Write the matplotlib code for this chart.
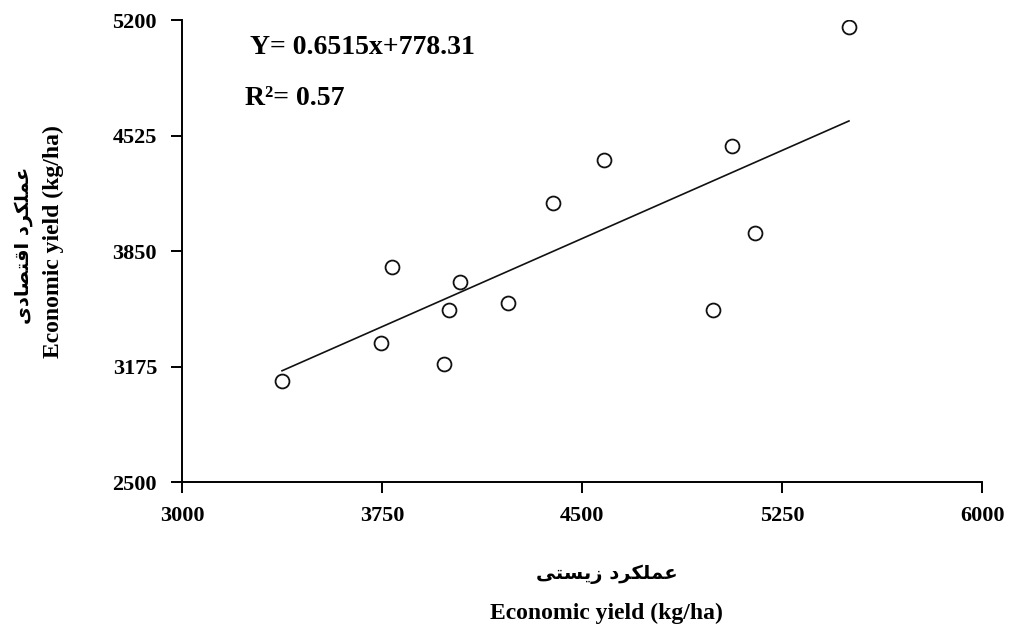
import matplotlib
matplotlib.use("Agg")
import matplotlib.pyplot as plt

# ---------------------------------------------------------
# Data
# ---------------------------------------------------------
bio_yield = [3375, 3746, 3787, 3982, 4001, 4042, 4222, 4391, 4582, 4991, 5062, 5149, 5501]
eco_yield = [3090, 3312, 3757, 3190, 3505, 3669, 3546, 4131, 4382, 3505, 4464, 3955, 5159]

# trend line as drawn in the figure (end points)
fit_x = [3375, 5501]
fit_y = [3150, 4610]

x_ticks = [3000, 3750, 4500, 5250, 6000]
y_ticks = [2500, 3175, 3850, 4525, 5200]

equation = "Y= 0.6515x+778.31"
r_squared = "R²= 0.57"

# ---------------------------------------------------------
# Minimal Persian shaping (matplotlib has no bidi / joining)
# forms: isolated, final, initial, medial
# ---------------------------------------------------------
FORMS = {
    "ع": ("\uFEC9", "\uFECA", "\uFECB", "\uFECC"),
    "م": ("\uFEE1", "\uFEE2", "\uFEE3", "\uFEE4"),
    "ل": ("\uFEDD", "\uFEDE", "\uFEDF", "\uFEE0"),
    "ک": ("\uFB8E", "\uFB8F", "\uFB90", "\uFB91"),
    "ی": ("\uFBFC", "\uFBFD", "\uFBFE", "\uFBFF"),
    "س": ("\uFEB1", "\uFEB2", "\uFEB3", "\uFEB4"),
    "ت": ("\uFE95", "\uFE96", "\uFE97", "\uFE98"),
    "ق": ("\uFED5", "\uFED6", "\uFED7", "\uFED8"),
    "ص": ("\uFEB9", "\uFEBA", "\uFEBB", "\uFEBC"),
    "ر": ("\uFEAD", "\uFEAE", None, None),
    "د": ("\uFEA9", "\uFEAA", None, None),
    "ز": ("\uFEAF", "\uFEB0", None, None),
    "ا": ("\uFE8D", "\uFE8E", None, None),
}


def shape(text):
    out = []
    for i, ch in enumerate(text):
        if ch not in FORMS:
            out.append(ch)
            continue
        prev = text[i - 1] if i > 0 else " "
        nxt = text[i + 1] if i + 1 < len(text) else " "
        joins_prev = prev in FORMS and FORMS[prev][2] is not None
        joins_next = nxt in FORMS and FORMS[ch][2] is not None
        iso, fin, ini, med = FORMS[ch]
        if joins_prev and joins_next:
            out.append(med)
        elif joins_prev:
            out.append(fin)
        elif joins_next:
            out.append(ini)
        else:
            out.append(iso)
    return "".join(reversed(out))


x_label_fa = shape("عملکرد زیستی")
y_label_fa = shape("عملکرد اقتصادی")
x_label_en = "Economic yield (kg/ha)"
y_label_en = "Economic yield (kg/ha)"

# ---------------------------------------------------------
# Plot
# ---------------------------------------------------------
serif = "Liberation Serif"
fig = plt.figure(figsize=(10.14, 6.25), dpi=100)
ax = fig.add_axes([0.1795, 0.2288, 0.7890, 0.7392])

ax.plot(fit_x, fit_y, color="#111111", linewidth=1.2, zorder=2)
ax.plot(bio_yield, eco_yield, linestyle="none", marker="o", markersize=10,
        markerfacecolor="white", markeredgecolor="#111111", markeredgewidth=1.3, zorder=3)

ax.set_xlim(3000, 6000)
ax.set_ylim(2500, 5200)
ax.set_xticks(x_ticks)
ax.set_yticks(y_ticks)

for side in ["top", "right"]:
    ax.spines[side].set_visible(False)
for side in ["left", "bottom"]:
    ax.spines[side].set_linewidth(1.4)

ax.tick_params(direction="out", length=8, width=1.4)
ax.tick_params(axis="x", pad=9)
ax.tick_params(axis="y", pad=10)
for lab in ax.get_xticklabels() + ax.get_yticklabels():
    lab.set_fontfamily(serif)
    lab.set_fontweight("bold")
    lab.set_fontsize(16)

ax.text(0.085, 0.941, equation, transform=ax.transAxes, fontsize=20,
        fontfamily=serif, fontweight="bold", va="center", ha="left")
ax.text(0.079, 0.831, r_squared, transform=ax.transAxes, fontsize=20,
        fontfamily=serif, fontweight="bold", va="center", ha="left")

# axis titles (Persian over English)
fig.text(607 / 1014, 1 - 574 / 625, x_label_fa, fontsize=14, fontweight="bold",
         fontfamily="DejaVu Sans", ha="center", va="center")
fig.text(606 / 1014, 1 - 613 / 625, x_label_en, fontsize=17, fontweight="bold",
         fontfamily=serif, ha="center", va="center")
fig.text(24 / 1014, 1 - 245 / 625, y_label_fa, fontsize=14, fontweight="bold",
         fontfamily="DejaVu Sans", ha="center", va="center", rotation=90)
fig.text(53 / 1014, 1 - 242 / 625, y_label_en, fontsize=17, fontweight="bold",
         fontfamily=serif, ha="center", va="center", rotation=90)

plt.savefig("out.png", dpi=100)
